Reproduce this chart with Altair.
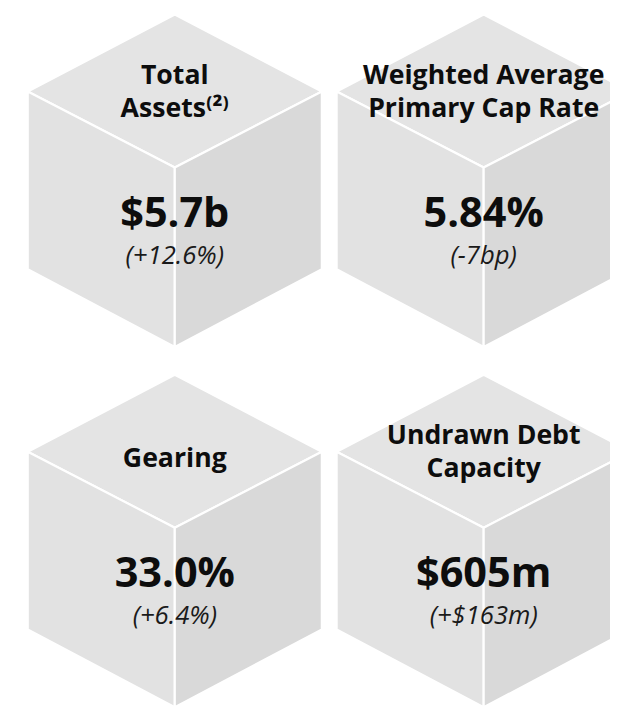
import altair as alt
import pandas as pd

# ---- data ----
metrics = ["Total Assets", "Weighted Average Primary Cap Rate", "Gearing", "Undrawn Debt Capacity"]
titles = ["Total\nAssets\u207d\u00b2\u207e", "Weighted Average\nPrimary Cap Rate", "Gearing", "Undrawn Debt\nCapacity"]
values = ["$5.7b", "5.84%", "33.0%", "$605m"]
changes = ["(+12.6%)", "(-7bp)", "(+6.4%)", "(+$163m)"]
grid_col = [0, 1, 0, 1]
grid_row = [0, 0, 1, 1]

df = pd.DataFrame({
    "metric": metrics,
    "title": titles,
    "value": values,
    "change": changes,
    "col": grid_col,
    "row": grid_row,
})

# ---- styles ----
FONT = "Open Sans, DejaVu Sans, sans-serif"
TOP_FACE = "M0,-1.040L1,-0.517L0,0L-1,-0.517Z"
LEFT_FACE = "M-1,-0.517L0,0L0,1.221L-1,0.691Z"
RIGHT_FACE = "M1,-0.517L0,0L0,1.221L1,0.691Z"
CUBE_SIZE = 298 * 298

x_enc = alt.X("col:Q", scale=alt.Scale(domain=[0, 1], range=[169, 482]), axis=None)
y_enc = alt.Y("row:Q", scale=alt.Scale(domain=[0, 1], range=[157, 522]), axis=None)

base = alt.Chart(df).encode(x=x_enc, y=y_enc)

def face(path, color):
    return base.mark_point(
        shape=path, size=CUBE_SIZE, filled=True, fill=color, opacity=1,
        stroke="white", strokeWidth=2.2, strokeOpacity=1,
    )

top = face(TOP_FACE, "#e4e4e4")
left = face(LEFT_FACE, "#e2e2e2")
right = face(RIGHT_FACE, "#d9d9d9")

title_style = dict(
    font=FONT, fontSize=27, fontWeight="bold", lineBreak="\n", lineHeight=34,
    baseline="middle", align="center", color="#0d0d0d",
)

title_two = base.transform_calculate(
    nlines="length(split(datum.title, '\\n'))"
).transform_filter("datum.nlines > 1").mark_text(dy=-93, **title_style).encode(text="title:N")

title_one = base.transform_calculate(
    nlines="length(split(datum.title, '\\n'))"
).transform_filter("datum.nlines == 1").mark_text(dy=-70, **title_style).encode(text="title:N")

value_txt = base.mark_text(
    font=FONT, fontSize=42, fontWeight="bold", baseline="middle", align="center",
    dy=47, color="#0d0d0d",
).encode(text="value:N")

change_txt = base.mark_text(
    font=FONT, fontSize=26, fontStyle="italic", baseline="middle", align="center",
    dy=90, color="#1a1a1a",
).encode(text="change:N")

chart = alt.layer(top, left, right, title_two, title_one, value_txt, change_txt).properties(
    width=610, height=699,
    padding={"left": 0, "right": 0, "top": 0, "bottom": 0},
    autosize=alt.AutoSizeParams(type="none"),
).configure_view(strokeWidth=0)

chart.save("out.html", embed_options={"renderer": "svg", "actions": False})
